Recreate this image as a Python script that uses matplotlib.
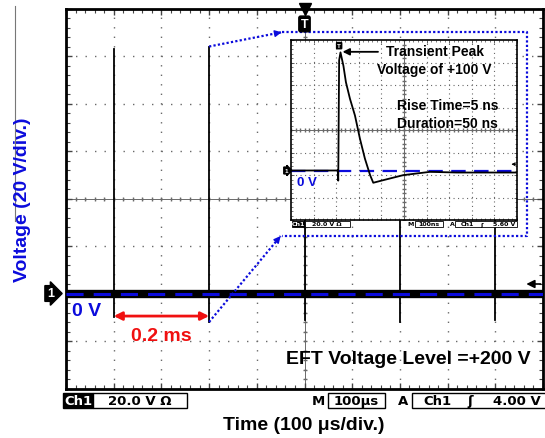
import matplotlib
matplotlib.use('Agg')
import matplotlib.pyplot as plt
import matplotlib.patches as patches
from matplotlib.lines import Line2D
import numpy as np

plt.rcParams['font.family'] = ['Liberation Sans', 'DejaVu Sans']

# main screen: EFT burst, time in us, voltage in V
burst_times = [100, 300, 500, 700, 900]
burst_peaks = [103, 104, 103, 103, 103]
burst_dips = [-10, -12, -11, -12, -11]
main_trig_level = 4.0

# zoomed single pulse: time in ns, voltage in V
pulse_t = [0, 207, 209, 213, 219, 232, 243, 261, 283, 305, 327, 350, 364, 408, 497, 615, 733, 1000]
pulse_v = [0, 0, -9, 98, 105, 93, 78.5, 63.7, 48.9, 28.3, 10.6, -4.1, -10.9, -8.6, -4.1, -1.2, -1.8, -1.8]
zoom_trig_level = 5.6

W, H = 545, 439
BLUE = '#0b0bdc'
RED = '#f01010'
GRID = '#6a6a6a'


def fx(x):
    return x / W


def fy(y):
    return 1 - y / H


def scope_screen(ax, xdiv, y0, ydiv, lw, dot):
    xs = np.arange(0, 10 * xdiv + 1, xdiv)
    ys = y0 + np.arange(0, 9) * ydiv
    ax.set_xlim(xs[0], xs[-1])
    ax.set_ylim(ys[0], ys[-1])
    for x in xs[1:-1]:
        ax.axvline(x, color=GRID, lw=lw, ls=(0, (1, dot)), zorder=1)
    for y in ys[1:-1]:
        ax.axhline(y, color=GRID, lw=lw, ls=(0, (1, dot)), zorder=1)
    ax.set_xticks(xs)
    ax.set_yticks(ys)
    ax.set_xticks(np.arange(xs[0], xs[-1] + 1e-9, xdiv / 5), minor=True)
    ax.set_yticks(np.arange(ys[0], ys[-1] + 1e-9, ydiv / 5), minor=True)
    ax.tick_params(which='both', direction='in', top=True, right=True,
                   labelbottom=False, labelleft=False, color='#444444')
    # centre cross with small marks
    cx, cy = xs[5], ys[4]
    mx = np.arange(xs[0], xs[-1] + 1e-9, xdiv / 5)
    my = np.arange(ys[0], ys[-1] + 1e-9, ydiv / 5)
    ax.plot(mx, np.full(len(mx), cy), color=GRID, lw=0.7, marker='|', ms=3.5, zorder=1)
    ax.plot(np.full(len(my), cx), my, color=GRID, lw=0.7, marker='_', ms=3.5, zorder=1)


def bar_box(x0, x1, y0, y1, dark=False, lw=1.0):
    fig.add_artist(patches.Rectangle((fx(x0), fy(y1)), (x1 - x0) / W, (y1 - y0) / H,
                                     transform=fig.transFigure, fc='black' if dark else 'white',
                                     ec='black', lw=lw))


fig = plt.figure(figsize=(W / 100, H / 100), dpi=100)

# ---- main screen ----
ax = fig.add_axes([fx(66), fy(389.5), (543 - 66) / W, 380 / H])
scope_screen(ax, 100, -40, 20, 1.0, 5.84)
for s in ax.spines.values():
    s.set_linewidth(2)
ax.tick_params(which='major', length=4, width=1)
ax.tick_params(which='minor', length=3, width=0.8)

ax.plot([0, 1000], [0, 0], color='black', lw=6, solid_capstyle='butt', zorder=3)
ax.plot([0, 1000], [0, 0], color=BLUE, lw=2.2, dashes=(5.6, 3.3), zorder=4)
for t, pk, dp in zip(burst_times, burst_peaks, burst_dips):
    ax.plot([t, t], [dp, pk], color='black', lw=1.3, zorder=3)

# channel and trigger markers
ax.text(-0.033, 0, '1', transform=ax.get_yaxis_transform(), ha='center', va='center',
        color='white', fontsize=9, fontweight='bold',
        bbox=dict(boxstyle='rarrow,pad=0.15', fc='black', ec='black'))
ax.plot(500, 120, marker='v', ms=8, color='black', clip_on=False, zorder=6)
ax.text(500, 113.5, 'T', ha='center', va='center', color='white', fontsize=9, fontweight='bold',
        bbox=dict(boxstyle='round,pad=0.15', fc='black', ec='black'), zorder=6)
ax.annotate('', xy=(965, main_trig_level), xytext=(995, main_trig_level),
            arrowprops=dict(arrowstyle='-|>', color='black', lw=1.2, mutation_scale=12,
                            shrinkA=0, shrinkB=0))

# blue dotted zoom box and arrows
box_x = [452, 966, 966, 452]
box_y = [110, 110, 24.2, 24.2]
ax.plot(box_x, box_y, color=BLUE, lw=1.6, ls=(0, (1, 1)), zorder=5)
for (xa, ya), (xb, yb) in [((300, 104), (452, 110)), ((300, -12), (450, 24.2))]:
    ax.plot([xa, xb], [ya, yb], color=BLUE, lw=1.6, ls=(0, (1, 1)), zorder=5)
    ax.annotate('', xy=(xb, yb), xytext=(xa + 0.96 * (xb - xa), ya + 0.96 * (yb - ya)),
                arrowprops=dict(arrowstyle='-|>', color=BLUE, lw=1, mutation_scale=10,
                                shrinkA=0, shrinkB=0), zorder=5)

# 0.2 ms span
ax.annotate('', xy=(100, -9.5), xytext=(300, -9.5),
            arrowprops=dict(arrowstyle='<|-|>', color=RED, lw=2, mutation_scale=12,
                            shrinkA=0, shrinkB=0), zorder=6)
ax.text(200, -17.5, '0.2 ms', color=RED, fontsize=14, fontweight='bold', ha='center', va='center')
ax.text(13, -7, '0 V', color=BLUE, fontsize=14, fontweight='bold', ha='left', va='center')
ax.text(975, -27.5, 'EFT Voltage Level =+200 V', color='black', fontsize=14, fontweight='bold',
        ha='right', va='center')

# ---- zoomed pulse ----
ins = fig.add_axes([fx(291), fy(221), 226 / W, 180 / H], zorder=10)
ins.set_facecolor('white')
scope_screen(ins, 100, -44, 20, 0.8, 3.05)
for s in ins.spines.values():
    s.set_linewidth(1.2)
ins.tick_params(which='major', length=2.5, width=0.6)
ins.tick_params(which='minor', length=1.5, width=0.5)
ins.plot([0, 1000], [0, 0], color=BLUE, lw=1.6, dashes=(6.5, 3.8), zorder=3)
ins.plot(pulse_t, pulse_v, color='black', lw=1.3, zorder=4)
ins.text(-0.02, 0, '1', transform=ins.get_yaxis_transform(), ha='center', va='center',
         color='white', fontsize=4.5, fontweight='bold',
         bbox=dict(boxstyle='rarrow,pad=0.15', fc='black', ec='black'))
ins.text(213, 111, 'T', ha='center', va='center', color='white', fontsize=4.5, fontweight='bold',
         bbox=dict(boxstyle='round,pad=0.1', fc='black', ec='black'), zorder=6)
ins.annotate('', xy=(975, zoom_trig_level), xytext=(995, zoom_trig_level),
             arrowprops=dict(arrowstyle='-|>', color='black', lw=0.6, mutation_scale=5,
                             shrinkA=0, shrinkB=0))
ins.annotate('', xy=(228, 105.5), xytext=(385, 105.5),
             arrowprops=dict(arrowstyle='-|>', color='black', lw=1.3, mutation_scale=10,
                             shrinkA=0, shrinkB=0))
ins.text(635, 106.5, 'Transient Peak', fontsize=10, fontweight='bold', ha='center', va='center')
ins.text(635, 90.5, 'Voltage of +100 V', fontsize=10, fontweight='bold', ha='center', va='center')
ins.text(470, 58, 'Rise Time=5 ns', fontsize=10, fontweight='bold', ha='left', va='center')
ins.text(470, 42, 'Duration=50 ns', fontsize=10, fontweight='bold', ha='left', va='center')
ins.text(25, -10.5, '0 V', color=BLUE, fontsize=9.5, fontweight='bold', ha='left', va='center')

# inset status bar
bar_box(292, 305, 222, 228, dark=True, lw=0.6)
bar_box(305, 350, 222, 228, lw=0.6)
bar_box(415, 443, 222, 228, lw=0.6)
bar_box(455, 517, 222, 228, lw=0.6)
sb = dict(fontsize=4.5, fontweight='bold', va='center', family='DejaVu Sans')
fig.text(fx(298.5), fy(225), 'Ch1', color='white', ha='center', **sb)
fig.text(fx(327), fy(225), '20.0 V Ω', ha='center', **sb)
fig.text(fx(411), fy(225), 'M', ha='center', **sb)
fig.text(fx(429), fy(225), '100ns', ha='center', **sb)
fig.text(fx(452), fy(225), 'A', ha='center', **sb)
fig.text(fx(467), fy(225), 'Ch1', ha='center', **sb)
fig.text(fx(482), fy(225), 'ʃ', ha='center', **sb)
fig.text(fx(515), fy(225), '5.60 V', ha='right', **sb)

# main status bar
bar_box(63, 93, 394, 409, dark=True)
bar_box(93, 187, 394, 409)
bar_box(328, 385, 394, 409)
bar_box(412, 546, 394, 409)
mb = dict(fontsize=9.5, va='center', fontweight='bold', family='DejaVu Sans')
fig.text(fx(78), fy(401.5), 'Ch1', color='white', ha='center', **mb)
fig.text(fx(140), fy(401.5), '20.0 V Ω', ha='center', **mb)
fig.text(fx(318), fy(401.5), 'M', ha='center', **mb)
fig.text(fx(356), fy(401.5), '100μs', ha='center', **mb)
fig.text(fx(403), fy(401.5), 'A', ha='center', **mb)
fig.text(fx(437), fy(401.5), 'Ch1', ha='center', **mb)
fig.text(fx(470), fy(401.5), 'ʃ', ha='center', **mb)
fig.text(fx(541), fy(401.5), '4.00 V', ha='right', **mb)

# axis titles
fig.text(fx(304), fy(426), 'Time (100 μs/div.)', fontsize=14, fontweight='bold', ha='center', va='center')
fig.text(fx(23), fy(200), 'Voltage (20 V/div.)', color=BLUE, fontsize=14, fontweight='bold',
         rotation=90, ha='center', va='center')
fig.add_artist(Line2D([fx(15), fx(15)], [fy(7), fy(222)], color='#777777', lw=0.8))

fig.savefig('out.png', dpi=100)
